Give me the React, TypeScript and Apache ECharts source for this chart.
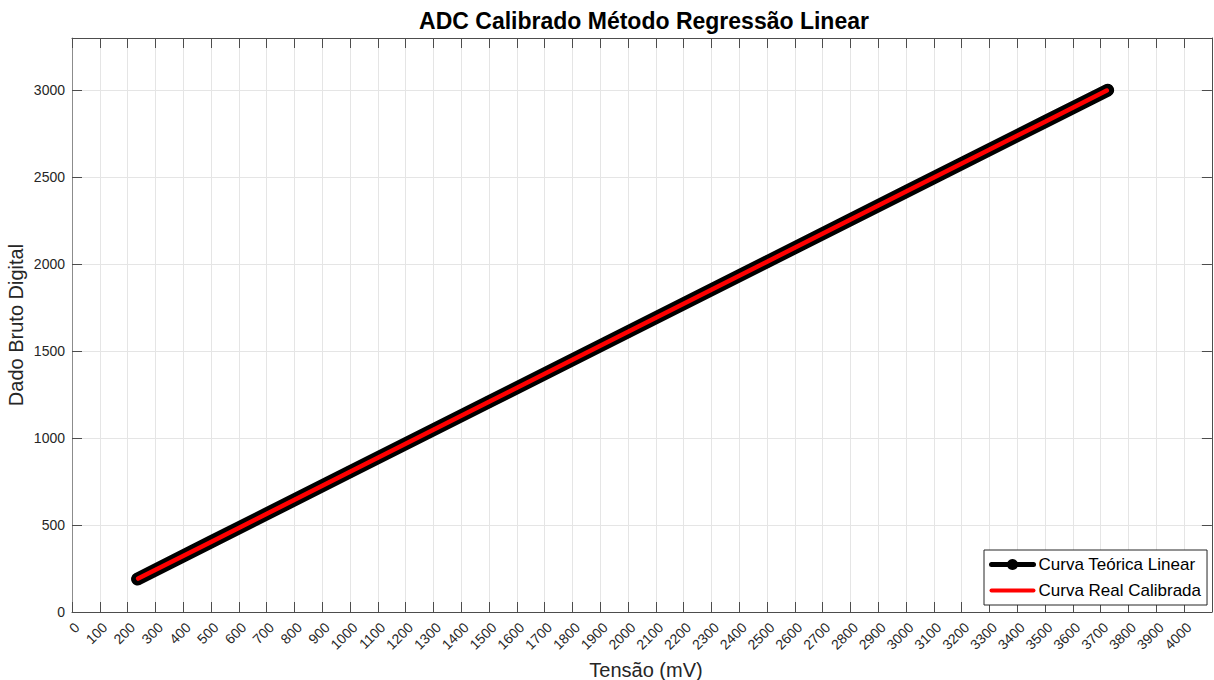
import React, { useEffect, useRef } from "react";
import * as echarts from "echarts";

const tensaoTeorica = [236, 500, 1000, 1500, 2000, 2500, 3000, 3500, 3725];
const dadoTeorico = [190, 403, 806, 1209, 1611, 2014, 2417, 2819, 3000];
const tensaoReal = [238, 500, 1000, 1500, 2000, 2500, 3000, 3500, 3722];
const dadoReal = [192, 403, 806, 1209, 1611, 2014, 2417, 2819, 2998];
const seriesNames = ["Curva Teórica Linear", "Curva Real Calibrada"];
const titleText = "ADC Calibrado Método Regressão Linear";
const xName = "Tensão (mV)";
const yName = "Dado Bruto Digital";

const FONT = "'Liberation Sans', Arial, Helvetica, sans-serif";
const AX = "#262626";

function tick() {
  return { show: true, inside: true, length: 10, lineStyle: { color: "#4d4d4d", width: 1 } };
}
function line(color: string) {
  return { show: true, onZero: false, lineStyle: { color, width: 1 } };
}

export default function App() {
  const ref = useRef<HTMLDivElement>(null);
  useEffect(() => {
    const chart = echarts.init(ref.current!, null, { renderer: "svg" });
    const teo = tensaoTeorica.map((x, i) => [x, dadoTeorico[i]]);
    const real = tensaoReal.map((x, i) => [x, dadoReal[i]]);
    chart.setOption({
      animation: false,
      backgroundColor: "#ffffff",
      textStyle: { fontFamily: FONT },
      grid: { left: 72, top: 38, bottom: 68, right: -4, containLabel: false },
      xAxis: [
        {
          type: "value",
          position: "bottom",
          min: 0,
          max: 4100,
          interval: 100,
          axisLine: line("#4d4d4d"),
          axisTick: tick(),
          axisLabel: {
            rotate: 45,
            margin: 8,
            fontSize: 14,
            color: AX,
            fontFamily: FONT,
            verticalAlign: "top",
            formatter: (v: number) => (v <= 4000 ? String(v) : ""),
          },
          splitLine: { show: true, lineStyle: { color: "#e5e5e5", width: 1 } },
        },
        {
          type: "value",
          position: "top",
          min: 0,
          max: 4100,
          interval: 100,
          axisLine: line("#4d4d4d"),
          axisTick: tick(),
          axisLabel: { show: false },
          splitLine: { show: false },
        },
      ],
      yAxis: [
        {
          type: "value",
          position: "left",
          min: 0,
          max: 3300,
          interval: 500,
          axisLine: line("#8c8c8c"),
          axisTick: tick(),
          axisLabel: {
            margin: 7,
            fontSize: 14,
            color: AX,
            fontFamily: FONT,
            formatter: (v: number) => (v % 500 === 0 ? String(v) : ""),
          },
          splitLine: { show: true, lineStyle: { color: "#e5e5e5", width: 1 } },
        },
        {
          type: "value",
          position: "right",
          min: 0,
          max: 3300,
          interval: 500,
          axisLine: line("#4d4d4d"),
          axisTick: tick(),
          axisLabel: { show: false },
          splitLine: { show: false },
        },
      ],
      legend: {
        orient: "vertical",
        left: 984,
        top: 550,
        padding: [6, 6, 6, 5],
        itemWidth: 42,
        itemHeight: 14,
        itemGap: 9,
        backgroundColor: "#ffffff",
        borderColor: AX,
        borderWidth: 1,
        borderRadius: 0,
        textStyle: { fontSize: 17, color: "#000", fontFamily: FONT },
        data: [
          {
            name: seriesNames[0],
            itemStyle: { color: "#000" },
            lineStyle: { width: 5, color: "#000" },
          },
          {
            name: seriesNames[1],
            itemStyle: { opacity: 0 },
            lineStyle: { width: 4, color: "#ff0000" },
          },
        ],
      },
      series: [
        {
          name: seriesNames[0],
          type: "line",
          data: teo,
          showSymbol: true,
          symbol: "circle",
          symbolSize: 12,
          itemStyle: { color: "#000" },
          lineStyle: { color: "#000", width: 13, cap: "round" },
          z: 2,
        },
        {
          name: seriesNames[1],
          type: "line",
          data: real,
          showSymbol: false,
          symbol: "none",
          itemStyle: { color: "#ff0000" },
          lineStyle: { color: "#ff0000", width: 4.5, cap: "round" },
          z: 3,
        },
      ],
      graphic: [
        {
          type: "text",
          x: 644,
          y: 21,
          style: {
            text: titleText,
            font: `bold 23px ${FONT}`,
            fill: "#000",
            textAlign: "center",
            textVerticalAlign: "middle",
          },
        },
        {
          type: "text",
          x: 646,
          y: 670,
          style: {
            text: xName,
            font: `20px ${FONT}`,
            fill: AX,
            textAlign: "center",
            textVerticalAlign: "middle",
          },
        },
        {
          type: "text",
          x: 16,
          y: 325,
          rotation: Math.PI / 2,
          style: {
            text: yName,
            font: `20px ${FONT}`,
            fill: AX,
            textAlign: "center",
            textVerticalAlign: "middle",
          },
        },
      ],
    });
    return () => chart.dispose();
  }, []);
  return (
    <div
      ref={ref}
      style={{ position: "fixed", left: 0, top: 0, width: 1214, height: 680 }}
    />
  );
}
